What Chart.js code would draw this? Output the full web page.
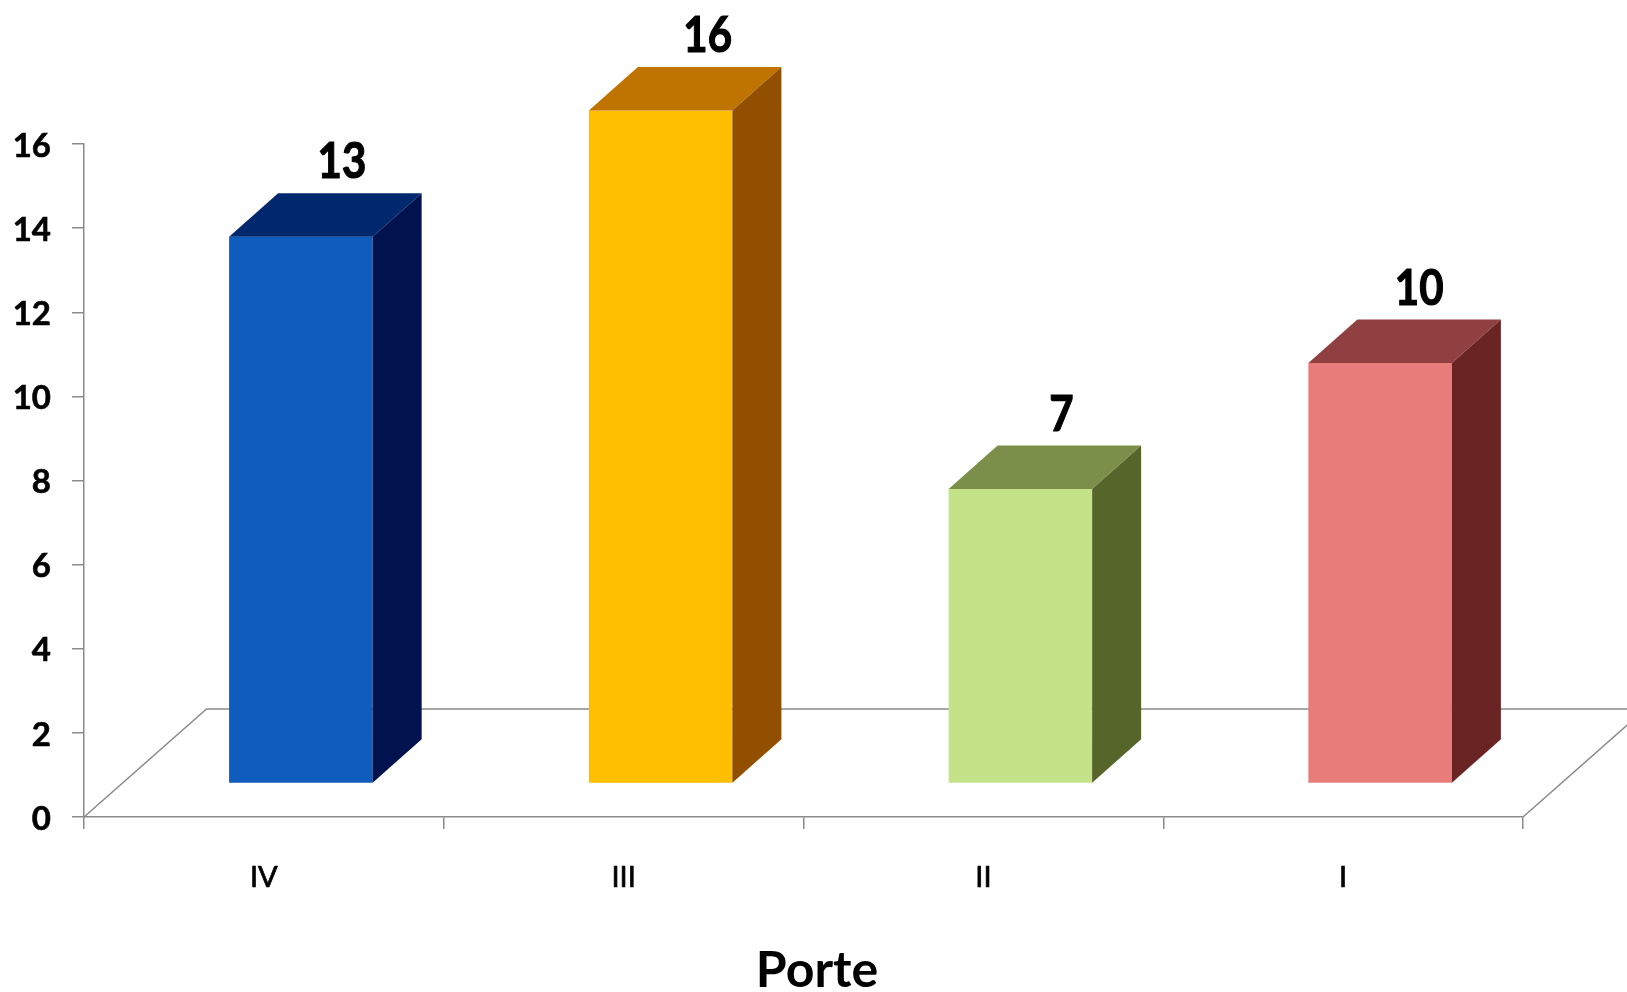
<!DOCTYPE html>
<html><head><meta charset="utf-8">
<style>html,body{margin:0;padding:0;background:#fff}canvas{display:block}</style>
<script src="https://cdn.jsdelivr.net/npm/chart.js@4"></script>
</head><body>
<canvas id="c" width="1627" height="992"></canvas>
<script>
const categories = ['IV','III','II','I'];
const seriesValues = [13,16,7,10];
const yTicks = [0,2,4,6,8,10,12,14,16];
const frontColors = ['#0E5CBB','#FFBF00','#C4E287','#E87C7A'];
const topColors = ['#00286F','#BF7300','#7C8F4A','#904040'];
const sideColors = ['#00134F','#934F00','#56652A','#6B2424'];
const axisTitle = 'Porte';

const FONT = 'Lato, "Liberation Sans", sans-serif';
const GREY = '#8a8a8a';
const BAR_SHIFT = {x:37, y:-33.5};   // front face sits forward on the 3D floor
const DEPTH = {x:49, y:-43.5};       // bar depth
const FLOOR = {x:122.5, y:-108};     // floor depth
const LABEL_NUDGE = [0,6,0,-2];

const bars3d = {
  id:'bars3d',
  afterLayout(chart){
    chart.titleBlock.left = 7; chart.titleBlock.right = 1627;
  },
  beforeDatasetsDraw(chart){
    const {ctx, chartArea:a} = chart;
    ctx.save();
    ctx.strokeStyle = GREY; ctx.lineWidth = 1.5;
    ctx.beginPath();
    ctx.moveTo(a.left,a.bottom);
    ctx.lineTo(a.left+FLOOR.x,a.bottom+FLOOR.y);
    ctx.lineTo(chart.width,a.bottom+FLOOR.y);
    ctx.moveTo(a.right,a.bottom);
    ctx.lineTo(a.right+FLOOR.x,a.bottom+FLOOR.y);
    ctx.stroke();
    ctx.restore();
    ctx.save();
    ctx.translate(BAR_SHIFT.x,BAR_SHIFT.y);
  },
  afterDatasetsDraw(chart){
    const {ctx} = chart;
    const meta = chart.getDatasetMeta(0);
    meta.data.forEach((bar,i)=>{
      const l = bar.x-bar.width/2, r = bar.x+bar.width/2, t = bar.y, b = bar.base;
      ctx.fillStyle = topColors[i];
      ctx.beginPath();
      ctx.moveTo(l,t); ctx.lineTo(l+DEPTH.x,t+DEPTH.y); ctx.lineTo(r+DEPTH.x,t+DEPTH.y); ctx.lineTo(r,t);
      ctx.closePath(); ctx.fill();
      ctx.fillStyle = sideColors[i];
      ctx.beginPath();
      ctx.moveTo(r,t); ctx.lineTo(r+DEPTH.x,t+DEPTH.y); ctx.lineTo(r+DEPTH.x,b+DEPTH.y); ctx.lineTo(r,b);
      ctx.closePath(); ctx.fill();
      ctx.save();
      ctx.fillStyle = '#000'; ctx.strokeStyle = '#000'; ctx.lineWidth = 1;
      ctx.font = 'bold 42px '+FONT;
      ctx.textAlign = 'center'; ctx.textBaseline = 'middle';
      ctx.translate(bar.x+41+LABEL_NUDGE[i], t+DEPTH.y-31);
      ctx.scale(1,1.2);
      ctx.fillText(String(seriesValues[i]),0,0);
      ctx.strokeText(String(seriesValues[i]),0,0);
      ctx.restore();
    });
    ctx.restore();
  }
};

new Chart(document.getElementById('c'),{
  type:'bar',
  data:{labels:categories,datasets:[{
    data:seriesValues,
    backgroundColor:frontColors,
    barPercentage:0.399,
    categoryPercentage:1,
    clip:false
  }]},
  plugins:[bars3d],
  options:{
    responsive:false,animation:false,devicePixelRatio:1,
    layout:{padding:{left:7,right:104,top:144,bottom:0}},
    plugins:{
      legend:{display:false},tooltip:{enabled:false},
      title:{display:true,text:axisTitle,position:'bottom',align:'center',color:'#000',
        font:{family:FONT,size:50,weight:'bold',lineHeight:0.6},padding:{top:0,bottom:6.5}}
    },
    scales:{
      x:{
        afterFit(s){s.height=138.5;},
        border:{display:true,color:GREY,width:1.5},
        grid:{display:true,drawOnChartArea:false,drawTicks:true,tickLength:12,color:GREY,lineWidth:1.5},
        ticks:{color:'#000',font:{family:FONT,size:29},padding:31,maxRotation:0,textStrokeWidth:0.7,textStrokeColor:'#000'}
      },
      y:{
        min:0,max:16,
        afterFit(s){s.width=77;},
        border:{display:true,color:GREY,width:1.5},
        grid:{display:true,drawOnChartArea:false,drawTicks:true,tickLength:12,color:GREY,lineWidth:1.5},
        afterBuildTicks(s){s.ticks=yTicks.map(v=>({value:v}));},
        ticks:{color:'#000',font:{family:FONT,size:33,weight:'bold'},padding:21,labelOffset:2,textStrokeWidth:0.6,textStrokeColor:'#000'}
      }
    }
  }
});
</script>
</body></html>
